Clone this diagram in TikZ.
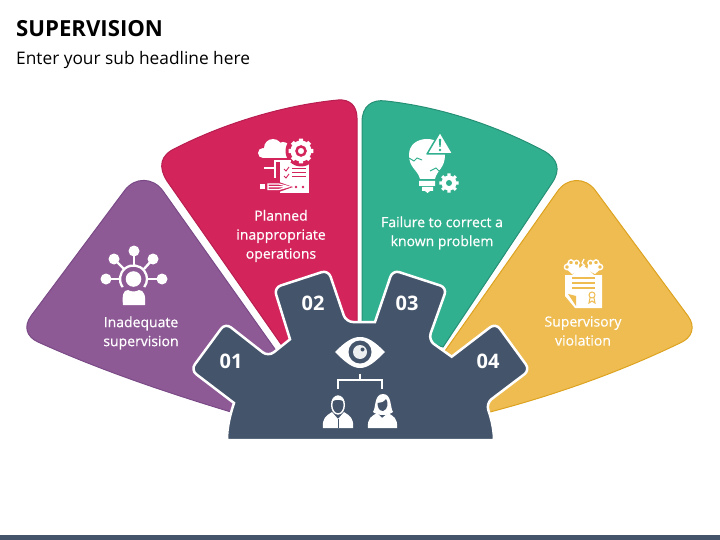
\documentclass[tikz,border=0pt]{standalone}
\usepackage{fontspec}
\usetikzlibrary{calc}
\setmainfont{Open Sans}
\newfontfamily\labelfont[FakeBold=0.5]{Open Sans}

\definecolor{Gear}{HTML}{44546A}
\definecolor{Plum}{HTML}{8E5A96}
\definecolor{PlumEdge}{HTML}{7A4A86}
\definecolor{Rose}{HTML}{D4245C}
\definecolor{RoseEdge}{HTML}{B81E50}
\definecolor{Jade}{HTML}{31B08F}
\definecolor{JadeEdge}{HTML}{269076}
\definecolor{Amber}{HTML}{EEBC50}
\definecolor{AmberEdge}{HTML}{DDA320}

\tikzset{
  petal/.style={line width=1},
  numlabel/.style={font=\fontsize{20}{20}\selectfont\bfseries, text=white},
  bodylabel/.style={font=\fontsize{14}{19}\labelfont, text=white, align=center},
  icon/.style={fill=white, draw=none},
}

\begin{document}
\begin{tikzpicture}[x=1pt, y=-1pt]
 \useasboundingbox (0,0) rectangle (720,540);

 %%%%%%%%%% Bottom bar and titles %%%%%%%%%%
 \fill [color=Gear] (0,535) rectangle (720,540);
 \node (title) [anchor=base west, inner sep=0, font=\fontsize{22.15}{22}\selectfont\bfseries] at (16,37) {SUPERVISION};
 \node (subtitle) [anchor=base west, inner sep=0, font=\fontsize{17.3}{20}\selectfont] at (16,65) {Enter your sub headline here};

 %%%%%%%%%% Petals %%%%%%%%%%
 \draw [petal, fill=Plum, draw=PlumEdge] (231,412) .. controls (165,392) and (100,370) .. (38,342)
   .. controls (27,337) and (23,327) .. (31,316) -- (125,190) .. controls (135,177) and (153,177) .. (163,191)
   -- (277,352) -- (250,400) -- cycle;
 \draw [petal, fill=Rose, draw=RoseEdge] (283,347) -- (167,181) .. controls (158,167) and (160,155) .. (176,148)
   .. controls (225,123) and (285,105) .. (338,100) .. controls (350,99) and (357,106) .. (357,118)
   -- (357,330) -- (300,340) -- cycle;
 \draw [petal, fill=Jade, draw=JadeEdge] (362,330) -- (362,122) .. controls (362,106) and (372,99) .. (386,101)
   .. controls (440,107) and (495,125) .. (544,151) .. controls (558,159) and (561,170) .. (552,183)
   -- (443,347) -- (420,340) -- cycle;
 \draw [petal, fill=Amber, draw=AmberEdge] (445,351) -- (557,192) .. controls (567,177) and (585,177) .. (595,190)
   -- (688,316) .. controls (696,327) and (692,338) .. (680,343)
   .. controls (620,372) and (555,395) .. (490,412) -- (470,400) -- cycle;

 %%%%%%%%%% Centre gear %%%%%%%%%%
 \draw [fill=Gear, draw=white, line width=2.5] (227,440) .. controls (227,427) and (230,415) .. (234,403)
   [rounded corners=7] -- (190.7,370) -- (225.3,323) -- (268.3,356.7) [sharp corners] -- (290,339.3)
   [rounded corners=7] -- (274,287.7) -- (328.3,270) -- (346,322) [sharp corners] -- (375,322)
   [rounded corners=7] -- (392.7,270) -- (447,287.7) -- (428.3,340) [sharp corners] -- (451.7,356.7)
   [rounded corners=7] -- (495.7,323) -- (530,370) -- (486,403.3) [sharp corners] .. controls (490,415) and (494,427) .. (494,440) -- cycle;

 \node (n01) [numlabel] at (231,361) {01};
 \node (n02) [numlabel] at (313,303) {02};
 \node (n03) [numlabel] at (407,303) {03};
 \node (n04) [numlabel] at (488,361) {04};

 %%%%%%%%%% Labels %%%%%%%%%%
 \node (inadequate) [bodylabel] at (141,333) {Inadequate\\supervision};
 \node (planned) [bodylabel] at (281,236) {Planned\\inappropriate\\operations};
 \node (failure) [bodylabel] at (442,233) {Failure to correct a\\known problem};
 \node (violation) [bodylabel] at (583,331) {Supervisory\\violation};

 %%%%%%%%%% Eye and chart %%%%%%%%%%
 \fill [icon] (335,352) .. controls (345,342) and (352,337) .. (360,337) .. controls (368,337) and (375,342) .. (385,352)
   .. controls (375,362) and (368,368) .. (360,368) .. controls (352,368) and (345,362) .. (335,352) -- cycle;
 \fill [color=Gear] (360,352) circle (11.5);
 \fill [color=white!90!Gear] (360,352) circle (7);
 \fill [color=Gear] (362.5,349.5) circle (2);
 \draw [white, line width=2.5] (360,373.5) -- (360,380) (338,389) -- (338,380) -- (382,380) -- (382,389);

 % man
 \fill [icon] (323,428) .. controls (322,418) and (326,416) .. (332,412) -- (338,419) -- (344,412) .. controls (350,416) and (354,418) .. (353,428) -- cycle;
 \draw [white, line width=1.4, fill=Gear] (338,405) ellipse (6.3 and 9);
 \fill [icon] (331.5,402) .. controls (333,394) and (343,394) .. (344.5,402) .. controls (341,399) and (335,399) .. (331.5,402) -- cycle;
 \draw [Gear, line width=0.8] (338,419) -- (338,428);
 % woman
 \fill [icon] (368,428) .. controls (367,418) and (372,416) .. (377,413) -- (382,418) -- (388,413) .. controls (393,416) and (398,418) .. (397,428) -- cycle;
 \fill [icon] (373,412) .. controls (376,408) and (374,394) .. (383,394) .. controls (392,394) and (390,408) .. (393,412) .. controls (388,416) and (378,416) .. (373,412) -- cycle;
 \fill [color=Gear] (377.5,403) .. controls (381,403) and (384,402) .. (386,399) .. controls (388.5,402) and (388,410) .. (383,411) .. controls (379,411) and (377.5,407) .. (377.5,403) -- cycle;

 %%%%%%%%%% Hub icon %%%%%%%%%%
 \draw [white, line width=2.3] (122.7,287.1) arc (143:397:13.5);
 \foreach \nx/\ny/\ex/\ey in {134/251/134/265, 114/259/124/269, 153/259/144/269, 106/279/120/279, 162/279/147/279} {
   \draw [white, line width=2.4] (\nx,\ny) -- (\ex,\ey);
   \fill [icon] (\nx,\ny) circle (5.5);
 }
 \fill [icon] (133.5,279) circle (7.8);
 \fill [icon] (123,305) .. controls (122,296) and (123,290) .. (128,290) .. controls (131,292) and (136,292) .. (139,290) .. controls (144,290) and (146,296) .. (145,305) -- cycle;

 %%%%%%%%%% Planning icon %%%%%%%%%%
 \fill [icon] (263,153) circle (5) (273,148) circle (9) (283,149) circle (7);
 \fill [icon] (263,152) rectangle (291,158);
 \fill [icon] (280,162) rectangle (309,193);
 \fill [color=Rose] (301,151) circle (15.5);
 \fill [icon] (301,151) circle (10.5);
 \foreach \a in {0,45,...,315} { \fill [icon] ($(301,151)+(\a-13:10)$) -- ($(301,151)+(\a+13:10)$) -- ($(301,151)+(\a+9:12.5)$) -- ($(301,151)+(\a-9:12.5)$) -- cycle; }
 \draw [Rose, line width=2.5] (301,151) circle (4.5);
 \draw [white, line width=1.4] (291,161) -- (275,161) -- (275,178) (275,168) -- (264,168);
 \draw [Rose, line width=0.9] (284,169) -- (286,171) -- (289,167) (284,176) -- (286,178) -- (289,174);
 \draw [Rose, line width=1] (292,169) -- (306,169) (292,173) -- (306,173) (292,177) -- (306,177);
 \fill [color=Rose] (296,187) circle (1.4) (303,187) circle (1.4);
 \fill [color=Rose] (276,181) -- (293,187) -- (276,193) -- cycle;
 \fill [icon] (260,184) rectangle (265,189);
 \draw [white, line width=1.2] (268,184) -- (279,184) -- (289,186.7) -- (279,189.5) -- (268,189.5) -- cycle (268,186.7) -- (289,186.7);

 %%%%%%%%%% Bulb icon %%%%%%%%%%
 \fill [icon] (420,179) .. controls (418,170) and (409,168) .. (409,155) .. controls (409,144) and (418,139) .. (427,139)
   .. controls (437,139) and (445,145) .. (445,155) .. controls (445,168) and (437,170) .. (435,179) -- cycle;
 \fill [icon] (419,181) rectangle (435,186) (422,187) rectangle (433,191) (425,191) -- (430,191) -- (427.5,193) -- cycle;
 \draw [Jade, line width=1] (409,158) -- (414,161) -- (417,158) -- (422,160) (447,168) -- (439,171) -- (436,168) -- (430,171);
 \draw [fill=white, draw=Jade, line width=1.5, line join=round] (440,132) -- (453,154) -- (427,154) -- cycle;
 \fill [color=Jade] (438.8,139) -- (441.2,139) -- (440.6,147) -- (439.4,147) -- cycle (440,150) circle (1.3);
 \fill [icon] (449,183) circle (7.5);
 \foreach \a in {0,45,...,315} { \fill [icon] ($(449,183)+(\a-13:7)$) -- ($(449,183)+(\a+13:7)$) -- ($(449,183)+(\a+9:9.8)$) -- ($(449,183)+(\a-9:9.8)$) -- cycle; }
 \fill [color=Jade] (449,183) circle (3);

 %%%%%%%%%% Violation icon %%%%%%%%%%
 \fill [icon] (565,275) -- (572,275) -- (583,265) -- (594,275) -- (602,275) -- (602,308) -- (575,308) -- (565,296) -- cycle;
 \fill [icon] (564,267) -- (570,260) -- (578,262) -- (580,270) -- (572,274) -- cycle;
 \fill [icon] (603,267) -- (597,260) -- (589,262) -- (587,270) -- (595,274) -- cycle;
 \fill [color=Amber] (568,294) -- (576,296) -- (576,306) -- cycle;
 \draw [Amber, line width=1.4] (572,278) -- (595,278) (572,283) -- (595,283) (572,288) -- (595,288);
 \draw [Amber, line width=1] (592,295) circle (3) (590,298) -- (589,303) -- (592,301) -- (595,303) -- (594,298);
 \draw [white, line width=1.3] (584,259) -- (582,263) -- (585,266);
 \foreach \rx/\ry in {567/267, 571/262.5, 576.5/263, 600/267, 596/262.5, 590.5/263} {
   \draw [white, line width=1.4, fill=Amber] (\rx,\ry) circle (2.6);
 }
\end{tikzpicture}
\end{document}
